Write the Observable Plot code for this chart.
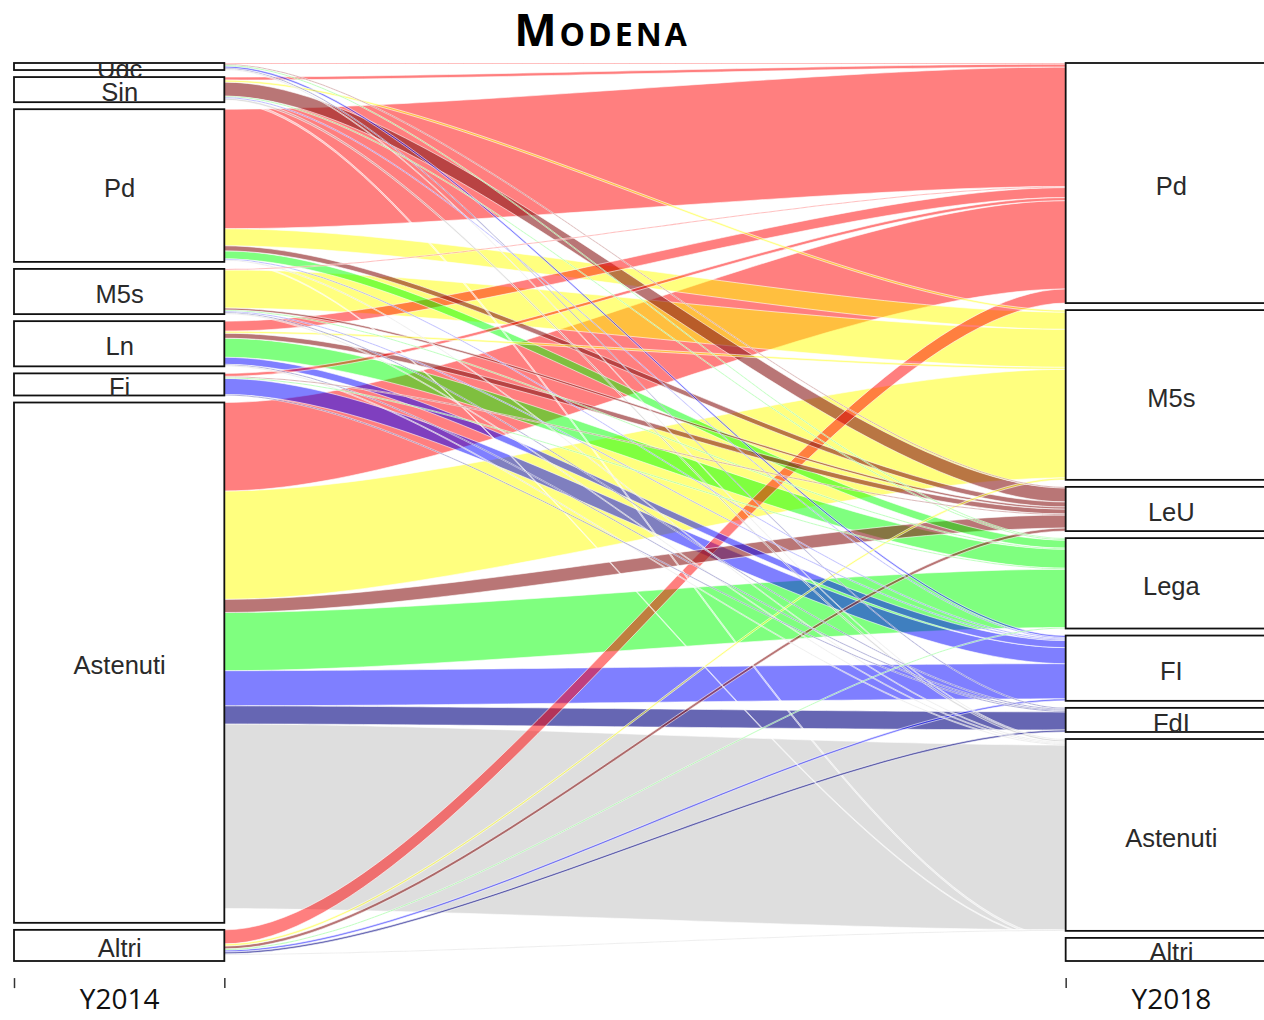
<!DOCTYPE html>
<html><head><meta charset="utf-8">
<script src="https://cdn.jsdelivr.net/npm/d3@7"></script>
<script src="https://cdn.jsdelivr.net/npm/@observablehq/plot@0.6"></script>
<style>
html,body{margin:0;padding:0;background:#fff;}
body{width:1264px;height:1020px;overflow:hidden;}
#title{height:56px;box-sizing:border-box;padding-top:1px;padding-right:60px;text-align:center;font-family:"Open Sans",sans-serif;font-weight:700;font-size:45px;line-height:56px;font-variant:small-caps;letter-spacing:3px;color:#000;}
#chart svg{display:block;overflow:hidden;}
</style></head><body>
<div id="title">Modena</div>
<div id="chart"></div>
<script>
// Categories
const leftNodes = ["Udc","Sin","Pd","M5s","Ln","Fi","Astenuti","Altri"];
const rightNodes = ["Pd","M5s","LeU","Lega","FI","FdI","Astenuti","Altri"];
const destColors = ["#ff0000","#ffff00","#8b1a1a","#00ff00","#0000ff","#000080","#bebebe","#ffffff"];
const destOpacity = [0.5,0.5,0.6,0.5,0.5,0.6,0.5,0.5];
// Flows 2014 -> 2018, one array per 2014 group, in the order of rightNodes
const fromUdc      = [1, 0, 1, 1, 2, 1, 1, 0];
const fromSin      = [3, 2, 14, 1, 1, 0, 2, 2];
const fromPd       = [119, 17, 5, 8, 1, 0, 1, 1];
const fromM5s      = [1, 38, 2, 1, 1, 1, 1, 0];
const fromLn       = [10, 2, 5, 19, 7, 1, 1, 0];
const fromFi       = [3, 0, 1, 1, 16, 1, 0, 0];
const fromAstenuti = [88, 108, 13, 58, 35, 18, 184, 14];
const fromAltri    = [14, 2, 3, 1, 2, 2, 1, 6];
const axisLabels = ["Y2014","Y2018"];

const flowRows = [fromUdc, fromSin, fromPd, fromM5s, fromLn, fromFi, fromAstenuti, fromAltri];

// Layout (alluvial stacking)
const gap = 7;
const leftTot = flowRows.map(r => d3.sum(r));
const rightTot = rightNodes.map((_, j) => d3.sum(flowRows, r => r[j]));
const leftStart = [], rightStart = [];
let acc = 0;
leftTot.forEach(t => { leftStart.push(acc); acc += t + gap; });
const yMax = acc - gap;
acc = 0;
rightTot.forEach(t => { rightStart.push(acc); acc += t + gap; });

const lCur = leftStart.slice(), rCur = rightStart.slice();
const flows = [];
flowRows.forEach((row, i) => {
  row.forEach((v, j) => {
    if (v <= 0) return;
    const f = {id: i + "-" + j, i, j, v, l0: lCur[i], l1: lCur[i] + v, r0: rCur[j], r1: rCur[j] + v};
    lCur[i] += v; rCur[j] += v;
    flows.push(f);
  });
});
// larger flows drawn first, small ones on top
flows.sort((a, b) => b.v - a.v);

const a = 0.27, N = 60;
const pts = [];
for (const f of flows) {
  for (let k = 0; k <= N; k++) {
    const s = k / N;
    const bx = 3*(1-s)*(1-s)*s*a + 3*(1-s)*s*s*(1-a) + s*s*s;
    const p = 3*s*s - 2*s*s*s;
    pts.push({
      id: f.id,
      x: 1.1 + 0.8*bx,
      y1: f.l0 + (f.r0 - f.l0)*p,
      y2: f.l1 + (f.r1 - f.l1)*p,
      fill: destColors[f.j],
      op: destOpacity[f.j]
    });
  }
}

const nodes = [
  ...leftNodes.map((n, i) => ({name: n, x1: 0.9, x2: 1.1, y1: leftStart[i], y2: leftStart[i] + leftTot[i]})),
  ...rightNodes.map((n, j) => ({name: n, x1: 1.9, x2: 2.1, y1: rightStart[j], y2: rightStart[j] + rightTot[j]}))
];
nodes.forEach(d => { d.cx = (d.x1 + d.x2)/2; d.cy = (d.y1 + d.y2)/2; });

const tickPos = [0.9, 1.1, 1.9, 2.1];
const labelData = axisLabels.map((t, k) => ({t, x: k + 1}));

const H = 964, mTop = 7, mBottom = 59;
const chart = Plot.plot({
  width: 1264,
  height: H,
  marginTop: mTop,
  marginBottom: mBottom,
  marginLeft: 14,
  marginRight: 0,
  x: {domain: [0.9, 2.1], range: [14, 1276], axis: null},
  y: {domain: [0, yMax], range: [mTop, H - mBottom], axis: null},
  color: {type: "identity"},
  opacity: {type: "identity"},
  marks: [
    Plot.areaY(pts, {x: "x", y1: "y1", y2: "y2", z: "id", fill: "fill", fillOpacity: "op", stroke: "white", strokeWidth: 0.6, curve: "linear"}),
    Plot.rect(nodes, {x1: "x1", x2: "x2", y1: "y1", y2: "y2", fill: "white", stroke: "#111", strokeWidth: 1.8}),
    Plot.text(nodes, {x: "cx", y: "cy", text: "name", dy: 3, fontSize: 25.5, fontFamily: "Liberation Sans, Arial, sans-serif", fill: "#2a2a2a", clip: true}),
    Plot.ruleX(tickPos, {x: d => d, y1: yMax + 17, y2: yMax + 27, stroke: "#333", strokeWidth: 1.5}),
    Plot.text(labelData, {x: "x", y: yMax + 38, text: "t", fontSize: 28, fontFamily: "Open Sans, sans-serif", fill: "#111"})
  ]
});
document.getElementById("chart").appendChild(chart);
</script>
</body></html>
